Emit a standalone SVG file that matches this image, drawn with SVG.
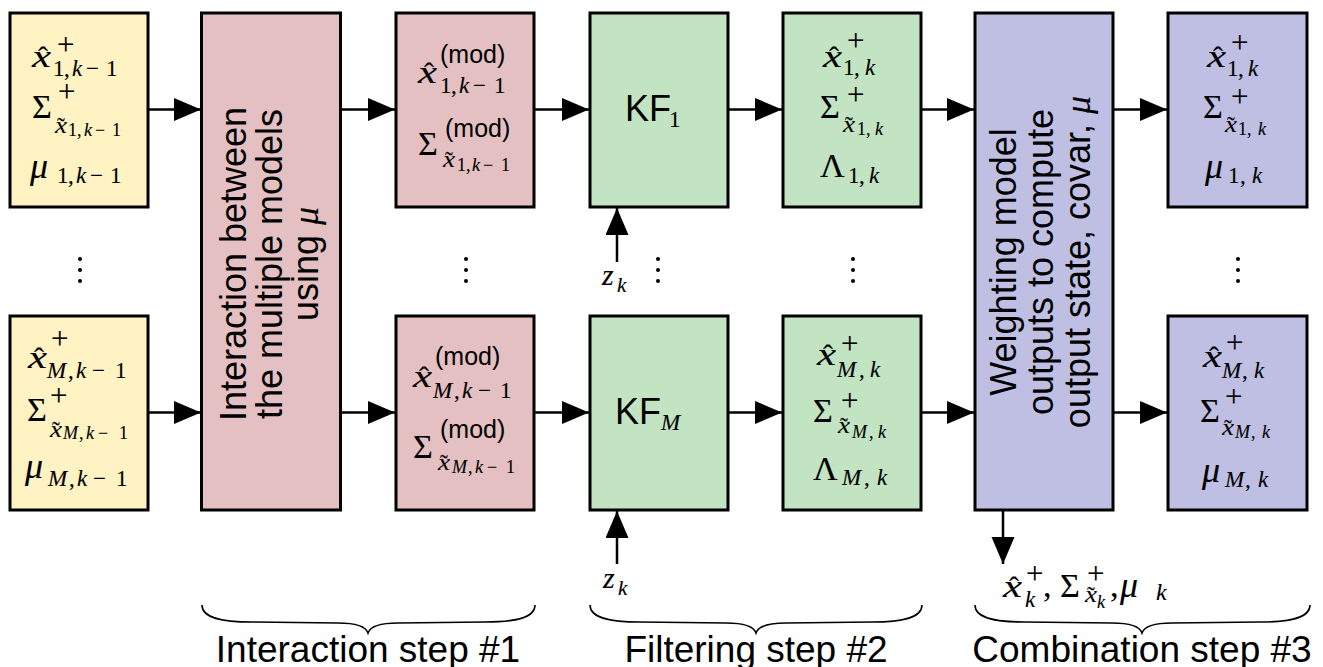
<svg xmlns="http://www.w3.org/2000/svg" width="1323" height="667" viewBox="0 0 1323 667">
<defs>
<style>
.box{stroke:#000;stroke-width:3}
.y{fill:#FFF3C4}.p{fill:#E4C0C2}.g{fill:#C2E4C2}.v{fill:#BFBFE4}
.m{font-family:"Liberation Serif","Times New Roman",serif;fill:#000;stroke:#000;stroke-width:0.12}
.i{font-style:italic}
.s{font-family:"Liberation Sans",Arial,sans-serif;fill:#000}
.b{font-size:34px}.xx{font-size:32px}.mu{font-size:36px}.hat{font-size:30px}
.sb{font-size:23px}.ss{font-size:18px}.sp{font-size:31px}.md{font-size:25px}
.big{font-size:36px}
.lbl{font-size:37px}
.ar{stroke:#000;stroke-width:2.5;fill:none;marker-end:url(#ah)}
.br{stroke:#000;stroke-width:1.6;fill:none}
</style>
<marker id="ah" markerUnits="userSpaceOnUse" markerWidth="28" markerHeight="24" refX="27" refY="11.5" orient="auto">
<path d="M0,0 L27,11.5 L0,23 z" fill="#000"/>
</marker>
</defs>
<rect width="1323" height="667" fill="#fff"/>

<g id="connectors">
<line class="ar" x1="148" y1="109.5" x2="201" y2="109.5"/>
<line class="ar" x1="341" y1="109.5" x2="395" y2="109.5"/>
<line class="ar" x1="534" y1="109.5" x2="589" y2="109.5"/>
<line class="ar" x1="728" y1="109.5" x2="782" y2="109.5"/>
<line class="ar" x1="921" y1="109.5" x2="974" y2="109.5"/>
<line class="ar" x1="1113" y1="109.5" x2="1167" y2="109.5"/>
<line class="ar" x1="148" y1="412.5" x2="201" y2="412.5"/>
<line class="ar" x1="341" y1="412.5" x2="395" y2="412.5"/>
<line class="ar" x1="534" y1="412.5" x2="589" y2="412.5"/>
<line class="ar" x1="728" y1="412.5" x2="782" y2="412.5"/>
<line class="ar" x1="921" y1="412.5" x2="974" y2="412.5"/>
<line class="ar" x1="1113" y1="412.5" x2="1167" y2="412.5"/>
<line class="ar" x1="617" y1="262" x2="617" y2="208"/>
<line class="ar" x1="617" y1="564" x2="617" y2="511"/>
<line class="ar" x1="1003" y1="510" x2="1003" y2="564"/>
</g>

<g id="yellow1">
<rect class="box y" x="10" y="13" width="138" height="194"/>
<text class="m i xx" x="32" y="67" textLength="19" lengthAdjust="spacingAndGlyphs">x</text><text class="m hat" x="38" y="67">ˆ</text>
<text class="m sp" x="57" y="55">+</text>
<text class="m sb" y="76"><tspan x="53 64">1,</tspan><tspan class="i" x="72">k</tspan><tspan x="86 106">−1</tspan></text>
<text class="m b" x="32" y="118">Σ</text>
<text class="m sp" x="58" y="102">+</text>
<text class="m i sb" x="55" y="133" textLength="12" lengthAdjust="spacingAndGlyphs">x</text><text class="m sb" x="57" y="134">˜</text>
<text class="m ss" y="136"><tspan x="68 77">1,</tspan><tspan class="i" x="84">k</tspan><tspan x="95 112">−1</tspan></text>
<text class="m i mu" x="30" y="178">μ</text>
<text class="m sb" y="183"><tspan x="57 68">1,</tspan><tspan class="i" x="76">k</tspan><tspan x="90 110">−1</tspan></text>
</g>

<g id="yellowM">
<rect class="box y" x="10" y="316" width="138" height="194"/>
<text class="m i xx" x="28" y="368" textLength="19" lengthAdjust="spacingAndGlyphs">x</text><text class="m hat" x="34" y="368">ˆ</text>
<text class="m sp" x="51" y="349">+</text>
<text class="m sb" y="378"><tspan class="i" x="47">M</tspan><tspan x="68">,</tspan><tspan class="i" x="76">k</tspan><tspan x="92 115">−1</tspan></text>
<text class="m b" x="27" y="421">Σ</text>
<text class="m sp" x="50" y="406">+</text>
<text class="m i sb" x="50" y="437" textLength="12" lengthAdjust="spacingAndGlyphs">x</text><text class="m sb" x="52" y="438">˜</text>
<text class="m ss" y="439"><tspan class="i" x="63">M</tspan><tspan x="79">,</tspan><tspan class="i" x="86">k</tspan><tspan x="98 119">−1</tspan></text>
<text class="m i mu" x="25" y="478">μ</text>
<text class="m sb" y="486"><tspan class="i" x="48">M</tspan><tspan x="69">,</tspan><tspan class="i" x="77">k</tspan><tspan x="93 116">−1</tspan></text>
</g>

<g id="interaction">
<rect class="box p" x="201.5" y="13" width="139" height="497"/>
<text class="s big" text-anchor="middle" transform="translate(246,264) rotate(-90)">Interaction between</text>
<text class="s big" text-anchor="middle" transform="translate(282,264) rotate(-90)">the multiple models</text>
<text class="s big" text-anchor="middle" transform="translate(318,264) rotate(-90)">using <tspan class="m i">μ</tspan></text>
</g>

<g id="mod1">
<rect class="box p" x="396" y="13" width="138" height="194"/>
<text class="m i xx" x="418" y="83" textLength="19" lengthAdjust="spacingAndGlyphs">x</text><text class="m hat" x="424" y="83">ˆ</text>
<text class="s md" x="440" y="63">(mod)</text>
<text class="m sb" y="93"><tspan x="440 451">1,</tspan><tspan class="i" x="459">k</tspan><tspan x="473 494">−1</tspan></text>
<text class="m b" x="418" y="155">Σ</text>
<text class="s md" x="445" y="137">(mod)</text>
<text class="m i sb" x="443" y="167" textLength="12" lengthAdjust="spacingAndGlyphs">x</text><text class="m sb" x="445" y="168">˜</text>
<text class="m ss" y="171"><tspan x="457 466">1,</tspan><tspan class="i" x="472">k</tspan><tspan x="483 501">−1</tspan></text>
</g>

<g id="modM">
<rect class="box p" x="396" y="316" width="138" height="194"/>
<text class="m i xx" x="413" y="387" textLength="19" lengthAdjust="spacingAndGlyphs">x</text><text class="m hat" x="419" y="387">ˆ</text>
<text class="s md" x="435" y="365">(mod)</text>
<text class="m sb" y="398"><tspan class="i" x="433">M</tspan><tspan x="454">,</tspan><tspan class="i" x="462">k</tspan><tspan x="478 500">−1</tspan></text>
<text class="m b" x="413" y="458">Σ</text>
<text class="s md" x="440" y="438">(mod)</text>
<text class="m i sb" x="438" y="470" textLength="12" lengthAdjust="spacingAndGlyphs">x</text><text class="m sb" x="440" y="471">˜</text>
<text class="m ss" y="473"><tspan class="i" x="452">M</tspan><tspan x="468">,</tspan><tspan class="i" x="475">k</tspan><tspan x="487 506">−1</tspan></text>
</g>

<g id="kf1">
<rect class="box g" x="590" y="13" width="138" height="194"/>
<text class="s big" x="625" y="121">KF</text>
<text class="m sb" x="669" y="127">1</text>
</g>

<g id="kfM">
<rect class="box g" x="590" y="316" width="138" height="194"/>
<text class="s big" x="615" y="424">KF</text>
<text class="m i sb" x="661" y="430">M</text>
</g>

<g id="zk">
<text class="m i" font-size="30" x="602" y="285">z</text>
<text class="m i" font-size="21" x="617" y="292">k</text>
<text class="m i" font-size="30" x="603" y="588">z</text>
<text class="m i" font-size="21" x="618" y="595">k</text>
</g>

<g id="out1">
<rect class="box g" x="783" y="13" width="138" height="194"/>
<text class="m i xx" x="823" y="67" textLength="19" lengthAdjust="spacingAndGlyphs">x</text><text class="m hat" x="829" y="67">ˆ</text>
<text class="m sp" x="847" y="51">+</text>
<text class="m sb" y="75"><tspan x="843 854">1,</tspan><tspan class="i" x="865">k</tspan></text>
<text class="m b" x="820" y="118">Σ</text>
<text class="m sp" x="847" y="105">+</text>
<text class="m i sb" x="843" y="132" textLength="12" lengthAdjust="spacingAndGlyphs">x</text><text class="m sb" x="845" y="133">˜</text>
<text class="m ss" y="135"><tspan x="857 866">1,</tspan><tspan class="i" x="875">k</tspan></text>
<text class="m" font-size="34" x="820" y="177">Λ</text>
<text class="m sb" y="183"><tspan x="848 859">1,</tspan><tspan class="i" x="869">k</tspan></text>
</g>

<g id="outM">
<rect class="box g" x="783" y="316" width="138" height="194"/>
<text class="m i xx" x="817" y="365" textLength="19" lengthAdjust="spacingAndGlyphs">x</text><text class="m hat" x="823" y="365">ˆ</text>
<text class="m sp" x="841" y="354">+</text>
<text class="m sb" y="377"><tspan class="i" x="837">M</tspan><tspan x="859">,</tspan><tspan class="i" x="870">k</tspan></text>
<text class="m b" x="813" y="422">Σ</text>
<text class="m sp" x="841" y="411">+</text>
<text class="m i sb" x="838" y="433" textLength="12" lengthAdjust="spacingAndGlyphs">x</text><text class="m sb" x="840" y="434">˜</text>
<text class="m ss" y="438"><tspan class="i" x="852">M</tspan><tspan x="869">,</tspan><tspan class="i" x="878">k</tspan></text>
<text class="m" font-size="34" x="813" y="480">Λ</text>
<text class="m sb" y="485"><tspan class="i" x="842">M</tspan><tspan x="864">,</tspan><tspan class="i" x="877">k</tspan></text>
</g>

<g id="combine">
<rect class="box v" x="975" y="13" width="138" height="497"/>
<text class="s big" text-anchor="middle" transform="translate(1016,262) rotate(-90)">Weighting model</text>
<text class="s big" text-anchor="middle" transform="translate(1053,262) rotate(-90)">outputs to compute</text>
<text class="s big" text-anchor="middle" transform="translate(1090,262) rotate(-90)">output state, covar, <tspan class="m i">μ</tspan></text>
</g>

<g id="res1">
<rect class="box v" x="1168" y="13" width="139" height="194"/>
<text class="m i xx" x="1207" y="67" textLength="19" lengthAdjust="spacingAndGlyphs">x</text><text class="m hat" x="1213" y="67">ˆ</text>
<text class="m sp" x="1231" y="53">+</text>
<text class="m sb" y="76"><tspan x="1227 1238">1,</tspan><tspan class="i" x="1248">k</tspan></text>
<text class="m b" x="1203" y="118">Σ</text>
<text class="m sp" x="1231" y="107">+</text>
<text class="m i sb" x="1225" y="132" textLength="12" lengthAdjust="spacingAndGlyphs">x</text><text class="m sb" x="1227" y="133">˜</text>
<text class="m ss" y="135"><tspan x="1238 1247">1,</tspan><tspan class="i" x="1258">k</tspan></text>
<text class="m i mu" x="1205" y="178">μ</text>
<text class="m sb" y="183"><tspan x="1228 1240">1,</tspan><tspan class="i" x="1252">k</tspan></text>
</g>

<g id="resM">
<rect class="box v" x="1168" y="316" width="139" height="194"/>
<text class="m i xx" x="1203" y="367" textLength="19" lengthAdjust="spacingAndGlyphs">x</text><text class="m hat" x="1209" y="367">ˆ</text>
<text class="m sp" x="1226" y="353">+</text>
<text class="m sb" y="378"><tspan class="i" x="1222">M</tspan><tspan x="1242">,</tspan><tspan class="i" x="1254">k</tspan></text>
<text class="m b" x="1200" y="422">Σ</text>
<text class="m sp" x="1225" y="407">+</text>
<text class="m i sb" x="1222" y="435" textLength="12" lengthAdjust="spacingAndGlyphs">x</text><text class="m sb" x="1224" y="436">˜</text>
<text class="m ss" y="438"><tspan class="i" x="1235">M</tspan><tspan x="1251">,</tspan><tspan class="i" x="1262">k</tspan></text>
<text class="m i mu" x="1202" y="482">μ</text>
<text class="m sb" y="487"><tspan class="i" x="1225">M</tspan><tspan x="1245">,</tspan><tspan class="i" x="1258">k</tspan></text>
</g>

<g id="combined-output">
<text class="m i xx" x="1003" y="597" textLength="19" lengthAdjust="spacingAndGlyphs">x</text><text class="m hat" x="1009" y="597">ˆ</text>
<text class="m sp" x="1026" y="584">+</text>
<text class="m i sb" x="1025" y="607">k</text>
<text class="m b" x="1043" y="597">,</text>
<text class="m b" x="1060" y="597">Σ</text>
<text class="m sp" x="1087" y="584">+</text>
<text class="m i sb" x="1085" y="602" textLength="12" lengthAdjust="spacingAndGlyphs">x</text><text class="m sb" x="1087" y="603">˜</text>
<text class="m i ss" x="1097" y="608">k</text>
<text class="m b" x="1110" y="597">,</text>
<text class="m i mu" x="1120" y="597">μ</text>
<text class="m i" font-size="24" x="1156" y="600">k</text>
</g>

<g id="dots" fill="#000">
<circle cx="80" cy="259" r="2"/><circle cx="80" cy="270" r="2"/><circle cx="80" cy="281" r="2"/>
<circle cx="466" cy="259" r="2"/><circle cx="466" cy="270" r="2"/><circle cx="466" cy="281" r="2"/>
<circle cx="658" cy="259" r="2"/><circle cx="658" cy="270" r="2"/><circle cx="658" cy="281" r="2"/>
<circle cx="853" cy="259" r="2"/><circle cx="853" cy="270" r="2"/><circle cx="853" cy="281" r="2"/>
<circle cx="1238" cy="259" r="2"/><circle cx="1238" cy="270" r="2"/><circle cx="1238" cy="281" r="2"/>
</g>

<g id="braces">
<path class="br" d="M202,605 C202,618 222,622 252,622 L338,623 C358,623 366,627 368,633 C370,627 378,623 398,623 L485,622 C515,622 535,618 535,605"/>
<path class="br" d="M590,605 C590,618 610,622 640,622 L726,623 C746,623 754,627 756,633 C758,627 766,623 786,623 L872,622 C902,622 922,618 922,605"/>
<path class="br" d="M975,605 C975,618 995,622 1025,622 L1112,623 C1132,623 1140,627 1142,633 C1144,627 1152,623 1172,623 L1260,622 C1290,622 1310,618 1310,605"/>
</g>

<g id="labels">
<text class="s lbl" text-anchor="middle" x="368" y="662">Interaction step #1</text>
<text class="s lbl" text-anchor="middle" x="756" y="662">Filtering step #2</text>
<text class="s lbl" text-anchor="middle" x="1142" y="662">Combination step #3</text>
</g>
</svg>
